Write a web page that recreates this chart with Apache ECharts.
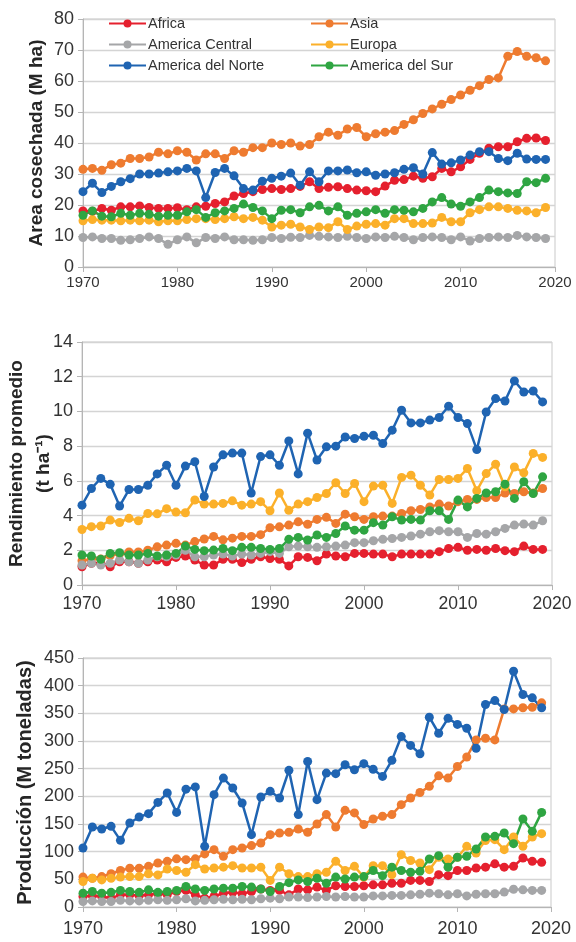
<!DOCTYPE html>
<html><head><meta charset="utf-8">
<script src="https://cdn.jsdelivr.net/npm/echarts@6/dist/echarts.min.js"></script>
<style>html,body{margin:0;padding:0;background:#fff}#c{width:576px;height:942px}</style>
</head><body><div id="c"></div>
<script>
// ---- data ----
const years = [];
for (let y = 1970; y <= 2019; y++) years.push(y);
const seriesNames = ['Africa','Asia','America Central','Europa','America del Norte','America del Sur'];
const colors = ['#E5202E','#EE7B30','#A5A6A8','#FBB02A','#1F64B2','#2FA542'];

// Area cosechada (M ha)
const africaArea = [18.1,18.0,18.9,18.3,19.4,19.4,19.7,19.2,18.9,18.9,19.1,18.5,19.4,19.6,20.5,21.0,22.9,23.7,24.3,25.0,25.3,25.0,25.3,26.0,27.5,25.3,25.7,25.9,25.3,24.8,24.6,24.3,26.1,28.0,28.2,29.3,28.6,29.1,31.8,30.7,32.3,34.7,36.7,38.3,38.8,38.8,40.4,41.5,41.6,40.8];
const asiaArea = [31.5,31.8,31.2,33,33.5,35,35,35.5,37,36.5,37.5,37,34.5,36.5,36.5,35,37.5,37,38.5,38.5,40,39.5,40,39,39.5,42,43.5,42.5,44.5,45,42,43,43.5,44,46,47.5,49.5,51,52.5,54,55.5,57,58.5,60.5,61,68,69.5,68,67.5,66.5];
const centralArea = [9.5,9.7,9.2,9.2,8.6,8.8,9.2,9.7,9.2,7.3,8.8,9.7,7.8,9.5,9.2,9.7,8.8,8.8,8.6,8.8,9.5,9.2,9.6,9.5,10.2,9.9,9.7,9.5,9.9,9.5,9.2,9.7,9.5,9.9,9.5,8.8,9.5,9.7,9.5,8.8,9.7,8.4,9.2,9.5,9.7,9.5,10.2,9.7,9.5,9.2];
const europaArea = [14.9,15.3,15.1,15.1,14.9,15.1,14.9,15.1,14.6,14.9,14.9,15.3,15.6,15.6,15.3,15.6,16.2,15.6,16.0,15.1,12.9,13.5,13.8,12.9,12.1,12.9,12.7,14.6,12.1,13.2,13.8,14.0,13.5,15.6,15.6,14.0,14.0,14.2,16.0,14.6,14.6,17.5,18.5,19.4,19.4,18.9,18.3,18.1,17.5,19.2];
const norteArea = [24.3,27,24,26,27.5,28.5,30,30,30.3,30.7,31,31.8,31,22.4,30.5,31.8,29.4,25.3,24.8,27.7,28.6,29.3,30.3,26.4,30.7,27.5,31,31,31.3,30.4,30.7,29.6,30,30.4,31.5,32,30,36.9,33.2,33.6,34.5,36.1,37.2,37.2,35,34.3,36.7,34.8,34.7,34.7];
const surArea = [16.7,18.1,16.4,16.2,17.3,16.7,17.3,17.0,16.4,16.7,16.7,17.8,18.5,16.0,17.5,18.1,18.9,20.3,19.2,18.1,15.6,18.3,18.5,17.5,19.4,19.9,18.1,19.4,16.7,17.3,17.8,18.5,17.3,18.5,18.3,17.8,18.9,21.0,22.4,20.3,19.6,21.0,22.4,24.8,24.3,23.9,23.7,27.5,27.2,28.6];

// Rendimiento promedio (t/ha)
const africaYield = [1.05,1.25,1.25,1.05,1.34,1.34,1.25,1.34,1.44,1.34,1.59,1.67,1.44,1.15,1.15,1.48,1.48,1.29,1.48,1.63,1.53,1.48,1.1,1.63,1.59,1.4,1.78,1.67,1.63,1.82,1.82,1.78,1.78,1.63,1.78,1.78,1.78,1.78,1.92,2.1,2.17,2.0,2.05,2.0,2.1,1.98,1.92,2.24,2.05,2.05];
const asiaYield = [1.4,1.5,1.5,1.7,1.8,1.9,1.9,2.0,2.2,2.3,2.4,2.3,2.5,2.65,2.8,2.6,2.7,2.8,2.8,2.9,3.3,3.35,3.45,3.64,3.5,3.78,3.9,3.55,4.08,3.93,3.78,3.93,3.97,3.97,4.12,4.28,4.35,4.5,4.66,4.55,4.8,4.93,4.93,5.04,5.04,5.3,5.27,5.37,5.3,5.56];
const centralYield = [1.15,1.25,1.15,1.25,1.44,1.34,1.25,1.44,1.63,1.63,1.73,2.0,1.63,1.63,1.73,1.78,1.67,1.78,1.73,1.82,1.92,1.82,2.2,2.24,2.2,2.17,2.2,2.24,2.3,2.44,2.44,2.55,2.63,2.68,2.74,2.82,2.93,3.07,3.13,3.07,3.07,2.74,2.97,2.93,3.07,3.26,3.45,3.51,3.45,3.7];
const europaYield = [3.2,3.36,3.4,3.74,3.6,3.84,3.7,4.12,4.1,4.4,4.2,4.16,4.9,4.66,4.66,4.7,4.85,4.6,4.66,4.8,4.28,5.3,4.3,4.66,4.8,5.04,5.27,5.89,5.27,5.85,4.8,5.7,5.75,4.7,6.2,6.33,5.75,5.18,6.08,6.08,6.14,6.71,5.43,6.42,6.96,5.66,6.8,6.46,7.58,7.35];
const norteYield = [4.6,5.56,6.14,5.8,4.55,5.5,5.5,5.75,6.4,6.9,5.75,6.85,7.1,5.1,6.8,7.5,7.6,7.6,5.3,7.4,7.5,6.9,8.3,6.4,8.75,7.2,7.96,8.0,8.53,8.44,8.57,8.63,8.15,8.92,10.07,9.34,9.34,9.5,9.65,10.3,9.65,9.3,7.8,9.97,10.74,10.6,11.76,11.12,11.18,10.55];
const surYield = [1.73,1.67,1.48,1.82,1.86,1.73,1.73,1.82,1.67,1.73,1.82,2.24,2.05,1.98,2.01,2.1,1.98,2.17,2.17,2.1,2.05,2.1,2.63,2.74,2.59,2.88,2.74,2.97,3.4,3.16,3.16,3.59,3.45,3.93,3.74,3.78,3.74,4.28,4.28,3.78,4.89,4.5,4.99,5.3,5.37,5.81,4.99,5.95,5.27,6.23];

// Produccion (M toneladas)
const africaProd = [19,20.5,19,16,22,22,20.5,22,24,22,28,30,22,16,19,25,26.5,24,28,32.5,30,30,22,32.5,31,36,30,38.5,37,37,38.5,40,40,43,43,48,48,46,58.4,56.6,66,66,70.5,72,78,72,73.5,88.5,82.5,80.7];
const asiaProd = [54,52,55,60,66,70,70,73.5,79.5,82.5,87,85.5,87,96,103.6,91.6,103.6,106.6,111,115.7,130.7,133.7,135,141,135,150,167,144.6,174.7,170,149,159,164,167,185,197,207,218,237,233,254,271,302,305,302,358,358,360,361,369];
const centralProd = [10,11,10,10,12,11,11,12,13,12,13,15,11,12,13,14,13,14,13,15,16,15,18,18,17,18,19,18,19,18,18,20,20,21,21,22,23,25,24,22,24,20,23,24,24,27,32,31,30,30];
const europaProd = [46,52,49,52,54,55,55,60,58,68.7,66,62.7,76.5,68.7,70.5,72,74.7,70.5,70.5,72,48,72,60,55,55,60,62.7,82.5,66,73.5,54,74.7,74.7,58.4,94.6,84,79.5,67.5,90,86.7,90,109.6,97.5,120,121.7,103.6,126.5,109.6,126.5,132.5];
const norteProd = [106.6,144.6,141,145.8,120.5,151.8,162.7,168.7,189,206,171,213,217,109.6,203,233,215,188,130.7,198.8,209,197,247,167,263,194,242,241,257,248,259,249,236,265,308,292,277,343,314,341,330,323,287,366,373,357,426,384,378,360];
const surProd = [25,28,25,26.5,30,28,26.5,31,26.5,28,30,37,32.5,30,32.5,34,34,37,36,32.5,28,37,44,49,46,52,43,54,50.6,54,55,66,56.6,72,66,62.7,64.5,86.7,92.8,72,90,91.6,104.8,126.5,127.7,133.7,114.5,159,136.7,171];

const xTicks = [1970,1980,1990,2000,2010,2020];

// ---- build ----
const panels = [
  {vals:[africaArea,asiaArea,centralArea,europaArea,norteArea,surArea], max:80, interval:10,
   name:'Area cosechada (M ha)', nameGap:33, nameSize:19, grid:{left:83,right:21,top:19,height:248}, xFont:15, xMargin:8},
  {vals:[africaYield,asiaYield,centralYield,europaYield,norteYield,surYield], max:14, interval:2,
   name:'Rendimiento promedio\n(t ha\u207B\u00B9)', nameGap:25, nameSize:19, grid:{left:82,right:24,top:342,height:243}, xFont:17.5, xMargin:10},
  {vals:[africaProd,asiaProd,centralProd,europaProd,norteProd,surProd], max:450, interval:50,
   name:'Producci\u00f3n (M toneladas)', nameGap:44, nameSize:20, grid:{left:83,right:25,top:658,height:249}, xFont:18, xMargin:13}
];

const FONT = '"Liberation Sans", Arial, sans-serif';
const grids = [], xAxes = [], yAxes = [], series = [];
panels.forEach((p, i) => {
  grids.push(Object.assign({show:true, borderColor:'#c9c9c9', borderWidth:1, backgroundColor:'transparent',
    containLabel:false, outerBoundsMode:'none'}, p.grid));
  xAxes.push({
    type:'value', gridIndex:i, min:xTicks[0], max:xTicks[xTicks.length-1], interval:10,
    axisLine:{show:true, lineStyle:{color:'#b5b5b5', width:1}},
    axisTick:{show:true, length:5, lineStyle:{color:'#b5b5b5'}},
    splitLine:{show:false},
    axisLabel:{fontSize:p.xFont, color:'#333', fontFamily:FONT, margin:p.xMargin, formatter:v => String(v)}
  });
  yAxes.push({
    type:'value', gridIndex:i, min:0, max:p.max, interval:p.interval,
    name:p.name, nameLocation:'middle', nameGap:p.nameGap, nameRotate:90, nameMoveOverlap:false,
    nameTextStyle:{fontSize:p.nameSize, fontWeight:'bold', color:'#262626', fontFamily:FONT, lineHeight:27},
    axisLine:{show:true, lineStyle:{color:'#b5b5b5', width:1}},
    axisTick:{show:true, length:5, lineStyle:{color:'#b5b5b5'}},
    splitLine:{show:true, lineStyle:{color:'#d4d4d4', width:1.3}},
    axisLabel:{fontSize:18, color:'#333', fontFamily:FONT, margin:9}
  });
  p.vals.forEach((arr, k) => {
    series.push({
      name:seriesNames[k], type:'line', xAxisIndex:i, yAxisIndex:i,
      data:years.map((y, j) => [y, arr[j]]),
      symbol:'circle', symbolSize:9, showSymbol:true,
      lineStyle:{width:2.5, color:colors[k]},
      itemStyle:{color:colors[k]},
      animation:false, silent:true
    });
  });
});

const legendCommon = {orient:'vertical', itemWidth:37, itemHeight:10, itemGap:6,
  textStyle:{fontSize:14.5, color:'#333', fontFamily:FONT, padding:[0,0,0,-3]}, selectedMode:false};
const option = {
  animation:false,
  backgroundColor:'#fff',
  grid:grids, xAxis:xAxes, yAxis:yAxes, series:series,
  legend:[
    Object.assign({left:103, top:11, data:['Africa','America Central','America del Norte']}, legendCommon),
    Object.assign({left:305, top:11, data:['Asia','Europa','America del Sur']}, legendCommon)
  ]
};
const chart = echarts.init(document.getElementById('c'), null, {renderer:'canvas'});
chart.setOption(option);
</script>
</body></html>
